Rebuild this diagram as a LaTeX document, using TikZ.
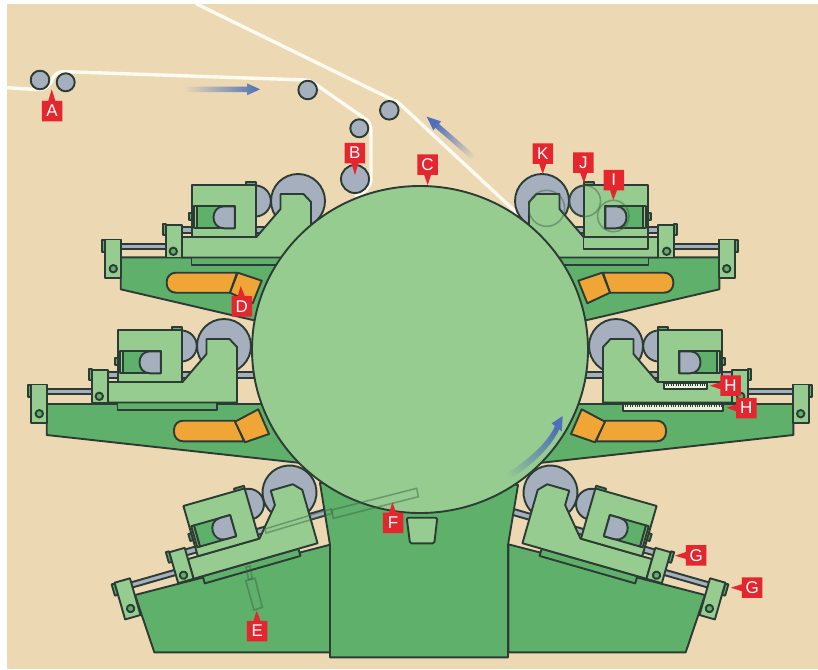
\documentclass[tikz,border=0pt]{standalone}
\usepackage{fontspec}
\setmainfont{Liberation Sans}
\usetikzlibrary{shapes.callouts}
\definecolor{paper}{RGB}{236,217,180}
\definecolor{web}{RGB}{255,251,240}
\definecolor{lightgreen}{RGB}{150,204,144}
\definecolor{darkgreen}{RGB}{94,176,106}
\definecolor{metal}{RGB}{166,175,190}
\definecolor{amber}{RGB}{240,166,55}
\definecolor{ink}{RGB}{44,60,52}
\definecolor{tagred}{RGB}{228,38,46}
\definecolor{flow}{RGB}{79,112,184}

\tikzset{
  flip/.style={xshift=840pt, xscale=-1},
  outline/.style={draw=ink, line width=1.9pt, line join=round},
  frame/.style={outline, fill=lightgreen},
  base/.style={outline, fill=darkgreen},
  steel/.style={outline, fill=metal},
  pad/.style={outline, fill=amber},
  ghost/.style={draw=ink!70!darkgreen, line width=1.6pt, opacity=0.45},
  paperweb/.style={draw=web, line width=3.4pt, line cap=round},
  tag/.style={rectangle callout, fill=tagred, text=white, inner sep=0pt,
              minimum size=20.5pt, callout pointer width=7pt,
              font=\fontsize{17}{17}\selectfont},
  press/.pic={
    % rods
    \draw[steel] (-60,26) rectangle (135,32);
    \draw[steel] (130,42.7) rectangle (178,48);
    % rollers
    \draw[steel] (0,0) circle (27pt);
    \draw[steel] (42.7,0) circle (15.5pt);
    % plate and carriage
    \draw[base] (7,56.5) rectangle (106.5,64);
    \draw[frame] (-13,56.5) -- (-13,1) -- (-5.5,-7) -- (17.5,-7) -- (17.5,8)
      -- (41.5,36) -- (116,36) -- (116,56.5) -- cycle;
    % print cylinder box
    \draw[base] (42,-19) rectangle (52.3,-16);
    \draw[base] (105.7,12) rectangle (108.7,19.3);
    \draw[frame] (42,-16.3) rectangle (105.7,36);
    \draw[base] (63.3,5.3) rectangle (101,27.3);
    \draw[outline, fill=lightgreen] (101,5.3) rectangle (103.7,27.3);
    \draw[steel] (63.3,5.3) -- (74,5.3) .. controls (88,5.3) and (88,27.3) ..
      (74,27.3) -- (63.3,27.3) -- cycle;
    % brackets
    \draw[base] (132,23.3) rectangle (135.3,34.3);
    \draw[frame] (116,24.3) rectangle (132,56.5);
    \draw[base] (124.7,50.3) circle (3.7pt);
    \draw[base] (193,39.3) rectangle (196.3,51);
    \draw[frame] (177,38.5) rectangle (193,76.7);
    \draw[base] (184.7,67.7) circle (3.7pt);
  },
  wings/.pic={
    % frame sides
    \draw[base] (550,257.3) -- (719.3,257.3) -- (719.3,289.3) -- (570,324) -- cycle;
    \draw[base] (570,404) -- (793.3,404) -- (793.3,435) -- (530,464) -- (540,420) -- cycle;
    \draw[base] (508.3,544.3) -- (705,595) -- (685.7,652.3) -- (508.3,652.3) -- cycle;
    % ink pads
    \draw[pad, rounded corners=9pt] (640,272.7) -- (673.3,272.7) -- (673.3,292.7)
      -- (640,292.7) [sharp corners] -- (610,292.7) -- (603,272.7) -- cycle;
    \draw[pad] (578.3,280.7) -- (602.3,272.7) -- (610,292.7) -- (587.3,303.3) -- cycle;
    \draw[pad, rounded corners=9pt] (640,420.7) -- (666,420.7) -- (666,441.3)
      -- (640,441.3) [sharp corners] -- (596,441.3) -- (605,420.7) -- cycle;
    \draw[pad] (581.7,409.3) -- (605,421.7) -- (595,442.3) -- (571,434) -- cycle;
  },
}

\begin{document}
\begin{tikzpicture}[x=1pt, y=-1pt]
\useasboundingbox (0,0) rectangle (818,669);
\fill[paper] (7,4) rectangle (818,669);

% ── Paper webs ──
\draw[paperweb] (7,87.7) -- (36,89.5) .. controls (47,90) and (50,85) .. (53,78)
  .. controls (55,73) and (60,71.5) .. (66,71.7) -- (305,80)
  .. controls (309,80) and (312,82) .. (316,84.5) -- (364,118)
  .. controls (369,121) and (371,125) .. (371,132) -- (371,178)
  .. controls (371,188) and (363,194) .. (356,196);
\draw[paperweb] (196.7,4) -- (388,97.5) .. controls (393,100) and (397,101) .. (401,105)
  -- (518,214);

% ── Guide rollers ──
\draw[steel] (40,80) circle (9.3pt);
\draw[steel] (65.7,82.3) circle (9pt);
\draw[steel] (307.7,90) circle (9.3pt);
\draw[steel] (359.3,128.3) circle (9pt);
\draw[steel] (389.3,110.3) circle (9.3pt);
\draw[steel] (355,179) circle (14pt);

% ── Flow arrows on the paper ──
\shade[top color=flow, bottom color=paper, shading angle=-90]
  (183,86.6) -- (247,86.6) -- (247,83.3) -- (260,89.3) -- (247,95.3) -- (247,92) -- (183,92) -- cycle;
\shade[top color=flow, bottom color=paper, shading angle=49]
  (426.7,116.7) -- (441.2,121.4) -- (439,123.9) -- (481.8,161.3) -- (478.2,165.3)
  -- (435.4,127.9) -- (433.3,130.4) -- cycle;

% ── Frame, pads and print units ──
\pic at (0,0) {wings};
\begin{scope}[flip]
  \pic[transform shape] at (0,0) {wings};
\end{scope}
\foreach \ux/\uy/\ua in {542/201/0, 616/346/0, 550.5/492.5/-16} {
  \pic[rotate=\ua] at (\ux,\uy) {press};
  \begin{scope}[flip]
    \pic[transform shape, rotate=\ua] at (\ux,\uy) {press};
  \end{scope}
}

% ── Scales and extra plate ──
\draw[frame] (583.5,237) rectangle (647.7,249.3);
\draw[outline, fill=web!80!lightgreen] (623.3,404) rectangle (723.3,410.7);
\draw[ink, line width=2pt, dash pattern=on 0.8pt off 1.6pt] (625,406) -- (722,406);
\draw[outline, fill=web!80!lightgreen] (664,383) rectangle (706.7,389.3);
\draw[ink, line width=2pt, dash pattern=on 0.8pt off 1.6pt] (666,385) -- (705,385);

% ── Centre column and main cylinder ──
\draw[base] (320,483) -- (330,545) -- (330,657.3) -- (508,657.3) -- (508,545)
  -- (518,485) -- (420,470) -- cycle;
\draw[outline, fill=lightgreen, rounded corners=1.5pt] (406.7,517.7) -- (437.3,517.7)
  -- (434.3,543.3) -- (410,543.3) -- cycle;
\draw[frame] (420,349.5) ellipse [x radius=168pt, y radius=163.5pt];
\shade[top color=flow, bottom color=lightgreen, shading angle=-45]
  (495,482) .. controls (520,465) and (545,448) .. (555,426) -- (551.7,423.3)
  -- (562.7,416) -- (561.7,431.7) -- (559.3,429.3)
  .. controls (548,453) and (523,472) .. (499,486) -- cycle;

% ── See-through parts ──
\draw[ghost] (265,529) -- (331,509) -- (332,513.5) -- (266,533) -- cycle;
\draw[ghost] (331.7,510) -- (416.7,488.3) -- (418.3,496.7) -- (333.3,518.3) -- cycle;
\draw[ghost] (245.7,580.7) -- (255,578.3) -- (262.3,607.3) -- (254,610) -- cycle;
\draw[ghost] (246,567) -- (250,566) -- (252.3,578.5) -- (248.5,579.5) -- cycle;
\draw[ghost] (546.7,208.3) circle (18pt);
\draw[ghost] (585,201) circle (15.5pt);
\draw[ghost] (613.3,216) circle (15.7pt);

% ── Letter tags ──
\node[tag, callout absolute pointer={(51.7,89.3)}] (tagA) at (52,111) {A};
\node[tag, callout absolute pointer={(355,175)}] (tagB) at (354.8,153) {B};
\node[tag, callout absolute pointer={(427.7,185)}] (tagC) at (427.5,164.5) {C};
\node[tag, callout absolute pointer={(240.7,286)}] (tagD) at (241.8,306.3) {D};
\node[tag, callout absolute pointer={(256.7,610.7)}] (tagE) at (257.2,631) {E};
\node[tag, callout absolute pointer={(392.3,502.3)}] (tagF) at (393,522.8) {F};
\node[tag, callout absolute pointer={(675,555.7)}] (tagGa) at (696.2,555.3) {G};
\node[tag, callout absolute pointer={(730.7,587.7)}] (tagGb) at (752.2,587.7) {G};
\node[tag, callout absolute pointer={(710,385.7)}] (tagHa) at (730.5,385.7) {H};
\node[tag, callout absolute pointer={(726.7,407.7)}] (tagHb) at (746.3,408) {H};
\node[tag, callout absolute pointer={(613.3,200)}] (tagI) at (613.8,180) {I};
\node[tag, callout absolute pointer={(584,183.3)}] (tagJ) at (583.3,162.5) {J};
\node[tag, callout absolute pointer={(542.7,174)}] (tagK) at (542.8,153.7) {K};

\end{tikzpicture}
\end{document}
